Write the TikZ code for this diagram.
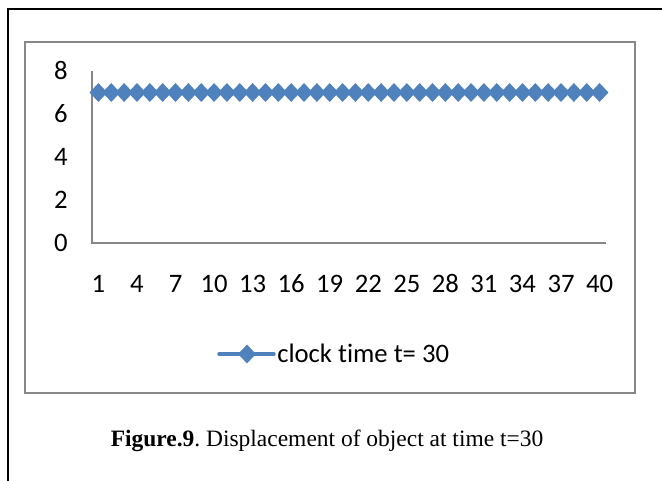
\documentclass[tikz,border=0pt]{standalone}
\usepackage{fontspec}
\setmainfont{Liberation Serif}
\newfontfamily\chartfont[Ligatures=NoCommon]{Carlito}
\usepackage{xcolor}
\usetikzlibrary{shapes.geometric}
\frenchspacing

\definecolor{series}{HTML}{4F81BD}
\definecolor{axisgray}{HTML}{878787}

\begin{document}
\begin{tikzpicture}[
  x=0.75pt, y=-0.75pt,
  tick/.style    ={font=\chartfont\fontsize{20}{24}\selectfont, inner sep=0pt,
                   text height=12.6pt, text depth=0pt},
  dmark/.style   ={diamond, fill=series, draw=none, inner sep=0pt,
                   minimum width=13.5pt, minimum height=14.3pt},
  frame/.style   ={draw=axisgray, line width=1.6pt},
  axisline/.style={draw=axisgray, line width=1.2pt},
  serline/.style ={draw=series, line width=2.6pt, line cap=round},
]
\useasboundingbox (0,0) rectangle (662,480);

\def\xL{92}
\def\xR{606}
\def\yT{71}
\def\yB{243}
\def\dy{21.5}
\def\dx{12.85}

% ---------- page frame and chart area ----------
\draw[line width=1.6pt] (8,482) -- (8,9) -- (664,9);
\draw[frame] (25,42) rectangle (635,393);

% ---------- axes ----------
\coordinate (ytop)   at (\xL,\yT);
\coordinate (origin) at (\xL,\yB);
\coordinate (xend)   at (\xR,\yB);
\draw[axisline] (ytop) -- (origin) -- (xend);

\foreach \v in {0,2,...,8}
  \node[tick, anchor=east] (ylab\v) at (68,\yB-\v*\dy) {\v};

\foreach \i in {1,4,...,40}
  \node[tick] (xlab\i) at ({\xL+(\i-0.5)*\dx},284) {\i};

% ---------- data series ----------
\foreach \i in {1,...,40}
  \node[dmark] (pt\i) at ({\xL+(\i-0.5)*\dx},\yB-7*\dy) {};
\draw[serline] (pt1.center) -- (pt40.center);

% ---------- legend ----------
\coordinate (legL) at (219,354);
\coordinate (legR) at (274,354);
\draw[serline] (legL) -- (legR);
\node[dmark] (legmark) at (247,354) {};
\node[tick, anchor=west] (legtext) at (277,354) {clock time t= 30};

% ---------- caption ----------
\node[font=\fontsize{17.6}{21}\selectfont] (caption) at (327,441)
  {\textbf{Figure.9}. Displacement of object at time t=30};

\end{tikzpicture}
\end{document}
